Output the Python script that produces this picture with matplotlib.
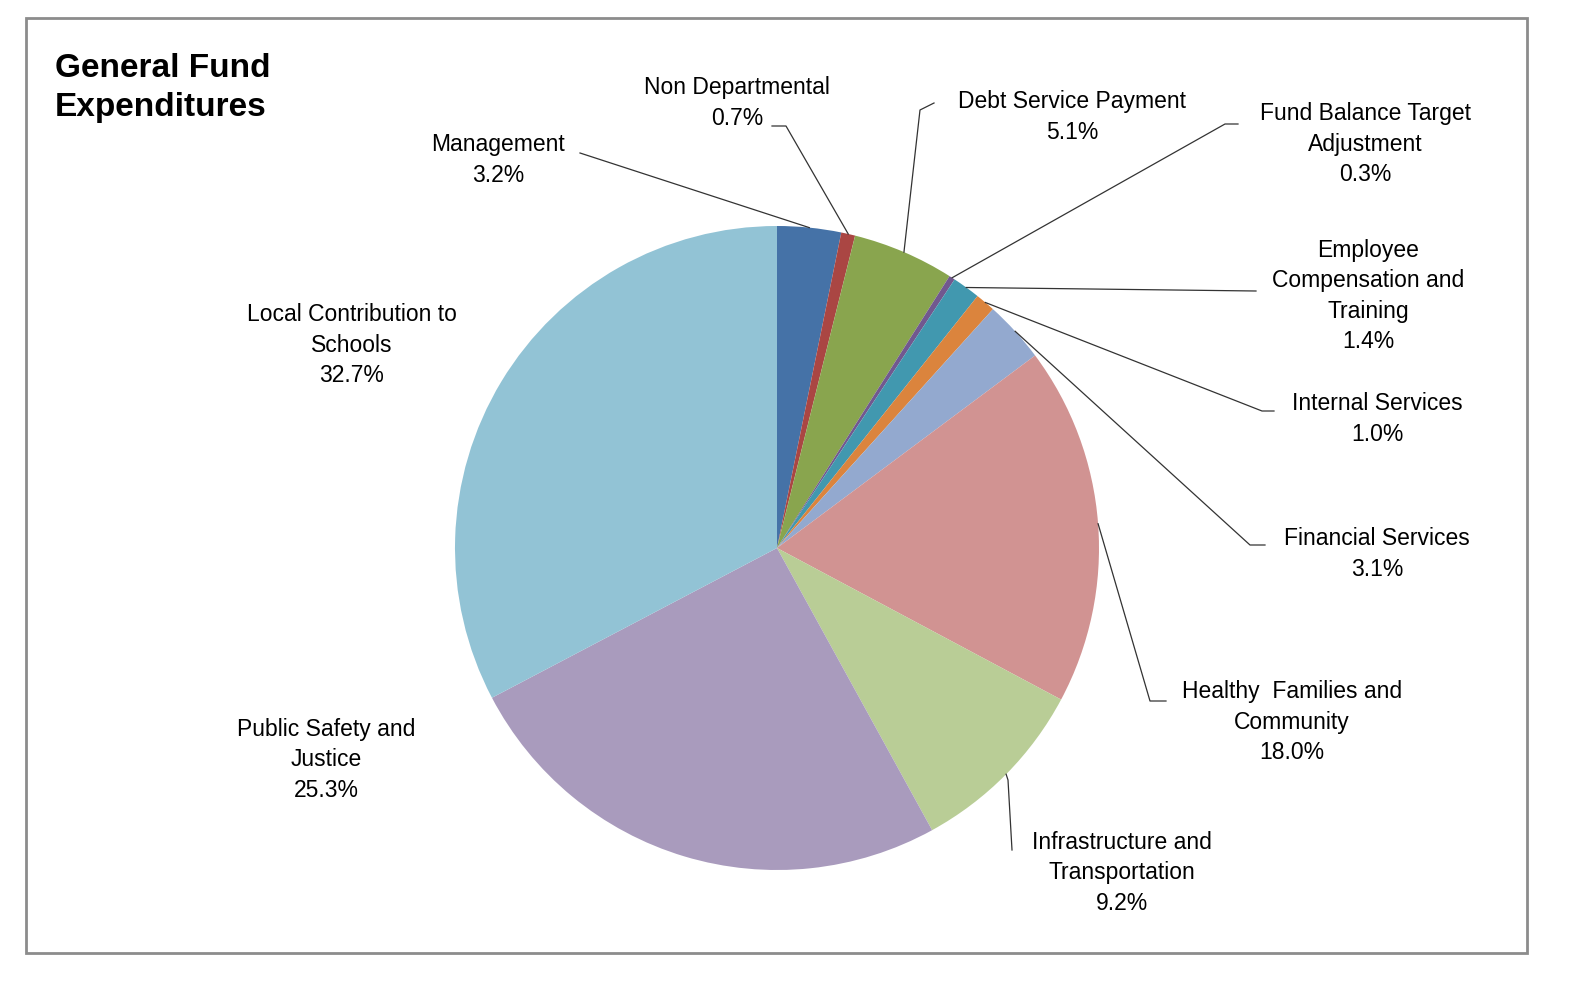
import matplotlib
matplotlib.use("Agg")
import matplotlib.pyplot as plt
import numpy as np
from matplotlib.patches import Rectangle

labels = ["Management", "Non Departmental", "Debt Service Payment",
          "Fund Balance Target\nAdjustment", "Employee\nCompensation and\nTraining",
          "Internal Services", "Financial Services", "Healthy  Families and\nCommunity",
          "Infrastructure and\nTransportation", "Public Safety and\nJustice",
          "Local Contribution to\nSchools"]
values = [3.2, 0.7, 5.1, 0.3, 1.4, 1.0, 3.1, 18.0, 9.2, 25.3, 32.7]
colors = ["#4572A7", "#AA4643", "#89A54E", "#71588F", "#4198AF", "#DB843D",
          "#93A9CF", "#D19392", "#B9CD96", "#A99BBD", "#92C3D5"]

text_pos = [(498, 160), (737, 103), (1072, 117), (1365, 144), (1368, 296),
            (1377, 419), (1377, 554), (1292, 722), (1122, 873), (326, 760), (352, 345)]
leaders = [[(580, 153)], [(772, 126), (786, 126)], [(934, 103), (920, 110)],
           [(1238, 124), (1225, 124)], [(1256, 291)],
           [(1274, 411), (1262, 411)], [(1265, 545), (1250, 545)],
           [(1166, 701), (1150, 701)], [(1012, 850), (1008, 780)], None, None]

W, H = 1584, 998
fig = plt.figure(figsize=(W / 100, H / 100), dpi=100)
ax = fig.add_axes([0, 0, 1, 1])

cx, cy, r = 777, 548, 322
ax.pie(values, colors=colors, startangle=90, counterclock=False,
       center=(cx, H - cy), radius=r, frame=True,
       wedgeprops=dict(linewidth=0))
ax.set_xlim(0, W)
ax.set_ylim(0, H)
ax.set_aspect("equal")
ax.axis("off")

ax.add_patch(Rectangle((26, H - 953), 1501, 935, fill=False, ec="#8c8c8c", lw=2))
ax.text(55, H - 88, "General Fund\nExpenditures", fontsize=24, fontweight="bold",
        family="Liberation Sans", va="center", ha="left", linespacing=1.3)

total = sum(values)
cum = 0
for lab, v, tp, ld in zip(labels, values, text_pos, leaders):
    mid = 90 - (cum + v / 2) / total * 360
    cum += v
    ax.text(tp[0], H - tp[1], f"{lab}\n{v:.1f}%", ha="center", va="center",
            fontsize=16.5, family="Liberation Sans", linespacing=1.4)
    if ld:
        ex = cx + r * np.cos(np.radians(mid))
        ey = (H - cy) + r * np.sin(np.radians(mid))
        xs = [p[0] for p in ld] + [ex]
        ys = [H - p[1] for p in ld] + [ey]
        ax.plot(xs, ys, color="#333333", lw=0.9)

fig.savefig("out.png", dpi=100)
